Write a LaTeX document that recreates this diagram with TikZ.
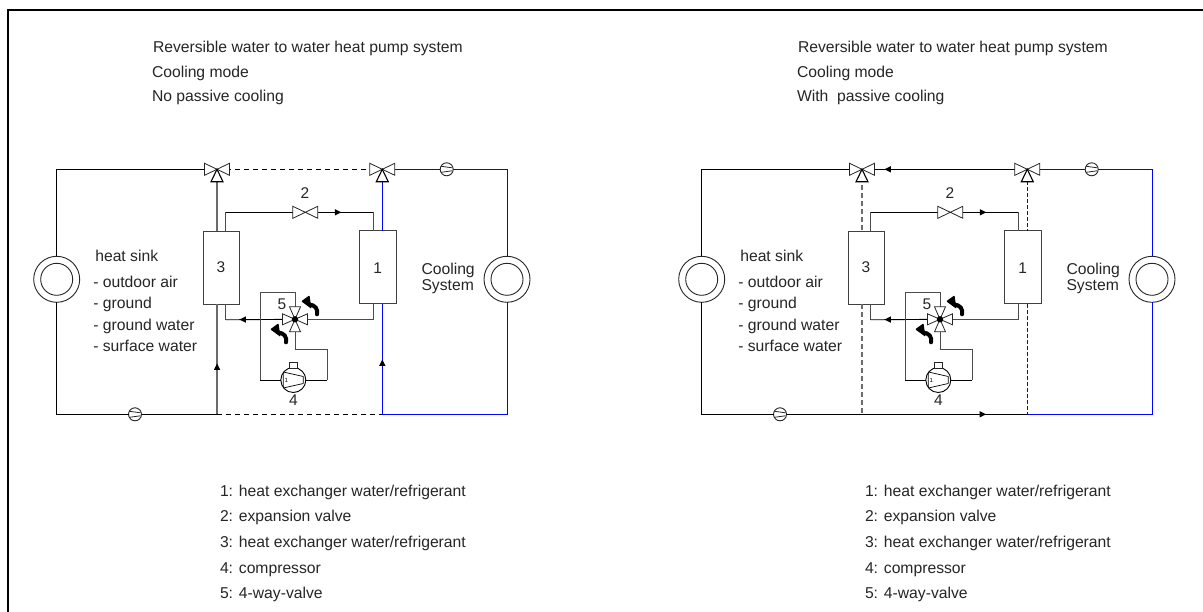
\documentclass[tikz,border=0pt]{standalone}
\usepackage{fontspec}
\setmainfont{Liberation Sans}
\definecolor{coolblue}{RGB}{0,0,255}
\definecolor{pipegray}{gray}{0.42}
\tikzset{
  lbl/.style={inner sep=0pt,outer sep=0pt,anchor=base west,yshift=-5.5pt,font=\fontsize{15.7}{17}\selectfont,text=black!85},
  num/.style={inner sep=0pt,outer sep=0pt,font=\fontsize{15.5}{17}\selectfont,text=black!85},
  pipe/.style={line width=0.9pt,black},
  gpipe/.style={line width=1.3pt,pipegray},
  rpipe/.style={line width=1pt,black!70},
  bpipe/.style={line width=1pt,coolblue},
  hxbox/.style={draw=black!75,line width=1pt,minimum width=36.5pt,minimum height=73pt,inner sep=0pt,outer sep=0pt,fill=white},
  ringout/.style={draw=black!85,circle,line width=0.9pt,minimum size=46pt,inner sep=0pt,outer sep=0pt,fill=white},
  ringin/.style={draw=black!85,circle,line width=0.9pt,minimum size=32pt,inner sep=0pt,outer sep=0pt},
  pumpbody/.style={draw=black!85,circle,line width=0.9pt,minimum size=13pt,inner sep=0pt,outer sep=0pt,fill=white},
  compbody/.style={draw=black,circle,line width=0.9pt,minimum size=25pt,inner sep=0pt,outer sep=0pt,fill=white},
  threeway/.pic={
    \draw[line width=0.8pt,black!85,fill=white,line join=miter] (0,0) -- (-12.5,-6) -- (-12.5,6) -- cycle;
    \draw[line width=0.8pt,black!85,fill=white] (0,0) -- (12.5,-6) -- (12.5,6) -- cycle;
    \draw[line width=1.1pt,black,fill=white] (0,0) -- (-6,12.5) -- (6,12.5) -- cycle;
  },
  twoway/.pic={
    \draw[line width=0.8pt,black!85,fill=white] (0,0) -- (-12.5,-6) -- (-12.5,6) -- cycle;
    \draw[line width=0.8pt,black!85,fill=white] (0,0) -- (12.5,-6) -- (12.5,6) -- cycle;
  },
  fourway/.pic={
    \draw[line width=0.8pt,black!85,fill=white] (0,0) -- (-12.5,-5.5) -- (-12.5,5.5) -- cycle;
    \draw[line width=0.8pt,black!85,fill=white] (0,0) -- (12.5,-5.5) -- (12.5,5.5) -- cycle;
    \draw[line width=0.8pt,black!85,fill=white] (0,0) -- (-5.5,-12.5) -- (5.5,-12.5) -- cycle;
    \draw[line width=0.8pt,black!85,fill=white] (0,0) -- (-5.5,12.5) -- (5.5,12.5) -- cycle;
    \fill[black] (0,0) circle (3.2pt);
  },
  flowtip/.pic={\fill[black] (3.2,0) -- (-3.2,-3.2) -- (-3.2,3.2) -- cycle;},
  swoosh/.pic={
    \draw[line width=4pt,black,line cap=round] (0,0) .. controls (1,-6) and (-2,-9) .. (-8,-10);
    \fill[black,rounded corners=0.8pt] (-15.8,-13) -- (-7.5,-19) -- (-5.5,-5.5) -- cycle;
  },
  pumpmark/.pic={
    \draw[line width=0.8pt,black!85] (-5.5,-3) -- (5.5,-1.5) (-5.5,3) -- (5.5,1.5);
  },
  compmark/.pic={
    \draw[line width=0.7pt,black] (-10,-7.5) -- (-10,7.5) (-10,-8) -- (10,-3.5) (-10,8) -- (10,3.5) (10,-3.5) -- (10,3.5);
    \node[inner sep=0pt,font=\fontsize{6}{6}\selectfont] at (-7,0) {1};
  }
}
% #1 name prefix, #2 x shift, #3 third line of heading, #4 top link style, #5 bottom link style,
% #6 sink-side riser style, #7 load-side riser style
\newcommand{\hpsystem}[7]{%
\begin{scope}[xshift=#2pt,name prefix=#1-]
  \node[lbl] (h1) at (153,47) {Reversible water to water heat pump system};
  \node[lbl] (h2) at (152,72) {Cooling mode};
  \node[lbl] (h3) at (152,96) {#3};
  \coordinate (vs) at (217,169.3);
  \coordinate (vl) at (382.3,169.3);
  \coordinate (bs) at (217,414.3);
  \coordinate (bl) at (382.3,414.3);
  \coordinate (tl) at (56.7,169.3);
  \coordinate (bll) at (56.7,414.3);
  \coordinate (tr) at (507,169.3);
  \coordinate (brr) at (507,414.3);
  \node[ringout] (sink) at (56.7,279.3) {};
  \node[ringout] (load) at (507,279.3) {};
  \node[pumpbody] (psink) at (135,414.3) {};
  \node[pumpbody] (pload) at (446.7,169.3) {};
  \node[hxbox] (hx3) at (221.7,267.8) {};
  \node[hxbox] (hx1) at (378,267.2) {};
  \node[num] (n3) at (221,267) {3};
  \node[num] (n1) at (377.7,268) {1};
  \coordinate (xv) at (305.3,212.3);
  \coordinate (fv) at (295,319.3);
  \node[compbody] (comp) at (293.3,380) {};
  \node[draw=black!85,line width=0.8pt,minimum width=8pt,minimum height=5.5pt,inner sep=0pt,outer sep=0pt,fill=white] (tab) at (293.3,365.3) {};
  \node[num] (n2) at (305,193.5) {2};
  \node[num] (n5) at (282,304) {5};
  \node[num] (n4) at (293.5,400.5) {4};
  % water circuit
  \draw[pipe] (sink.north) -- (tl) -- (vs);
  \draw[pipe] (sink.south) -- (bll) -- (psink.west);
  \draw[pipe] (psink.east) -- (bs);
  \draw[bpipe] (vl) -- (pload.west);
  \draw[bpipe] (pload.east) -- (tr) -- (load.north);
  \draw[bpipe] (load.south) -- (brr) -- (bl);
  \draw[gpipe,#6] (vs) -- (vs |- hx3.north);
  \draw[gpipe,#6] (vs |- hx3.south) -- (bs);
  \draw[bpipe,#7] (vl) -- (vl |- hx1.north);
  \draw[bpipe,#7] (vl |- hx1.south) -- (bl);
  \draw[pipe,#4] (vs) -- (vl);
  \draw[pipe,#5] (bs) -- (bl);
  % refrigerant circuit
  \coordinate (c3t) at (225.7,212.3);
  \coordinate (c1t) at (373.3,212.3);
  \coordinate (c3b) at (225.7,319.8);
  \coordinate (c1b) at (373.3,319.3);
  \coordinate (ct) at (295,292.3);
  \coordinate (ctl) at (260.3,292.3);
  \coordinate (cbl) at (260.3,380);
  \coordinate (cbr) at (327.3,380);
  \coordinate (cmr) at (327.3,349.3);
  \coordinate (cm) at (295,349.3);
  \draw[rpipe] (c3t |- hx3.north) -- (c3t);
  \draw[pipe] (c3t) -- (xv);
  \draw[pipe] (xv) -- (c1t);
  \draw[rpipe] (c1t) -- (c1t |- hx1.north);
  \draw[rpipe] (c3t |- hx3.south) -- (c3b);
  \draw[pipe] (c3b) -- (fv);
  \draw[rpipe] (fv) -- (c1b) -- (c1t |- hx1.south);
  \draw[rpipe] (fv) -- (ct) -- (ctl) -- (cbl);
  \draw[pipe] (cbl) -- (comp.west);
  \draw[pipe] (comp.east) -- (cbr);
  \draw[rpipe] (cbr) -- (cmr) -- (cm) -- (fv);
  \pic at (comp.center) {compmark};
  \pic at (pload.center) {pumpmark};
  \pic at (psink.center) {pumpmark};
  \node[ringin] (sinkin) at (sink.center) {};
  \node[ringin] (loadin) at (load.center) {};
  \pic at (vs) {threeway};
  \pic at (vl) {threeway};
  \pic at (xv) {twoway};
  \pic at (fv) {fourway};
  \pic at (286,342.3) {swoosh};
  \pic at (317,314.3) {swoosh};
  \pic at (338,212.3) {flowtip};
  \pic at (242.7,319.6) [rotate=180] {flowtip};
  \node[lbl] (s0) at (95.3,256) {heat sink};
  \node[lbl] (s1) at (93.3,282) {- outdoor air};
  \node[lbl] (s2) at (93.3,303.5) {- ground};
  \node[lbl] (s3) at (93.3,325) {- ground water};
  \node[lbl] (s4) at (93.3,346) {- surface water};
  \node[lbl] (c1) at (421.5,269) {Cooling};
  \node[lbl] (c2) at (421.5,285.5) {System};
  \node[lbl] (k1) at (220,490.7) {1: heat exchanger water/refrigerant};
  \node[lbl] (k2) at (220,515.7) {2: expansion valve};
  \node[lbl] (k3) at (220,541.7) {3: heat exchanger water/refrigerant};
  \node[lbl] (k4) at (220,567.7) {4: compressor};
  \node[lbl] (k5) at (220,593.3) {5: 4-way-valve};
\end{scope}}
\begin{document}
\begin{tikzpicture}[x=1pt,y=-1pt]
\useasboundingbox (0,0) rectangle (1203,612);
\fill[white] (0,0) rectangle (1203,612);
\draw[line width=2pt,black] (8,612) -- (8,10) -- (1203,10);
\hpsystem{L}{0}{No passive cooling}{dash pattern=on 5pt off 4pt}{dash pattern=on 5pt off 4pt}{}{}
\pic at (217,366.7) [rotate=90] {flowtip};
\pic at (382.3,362.7) [rotate=90] {flowtip};
\hpsystem{R}{645}{With\ \ passive cooling}{}{}{dash pattern=on 5pt off 3pt}{dash pattern=on 4pt off 2pt}
\pic at (887.7,169.3) [rotate=180] {flowtip};
\pic at (982.7,414.3) {flowtip};
\end{tikzpicture}
\end{document}
